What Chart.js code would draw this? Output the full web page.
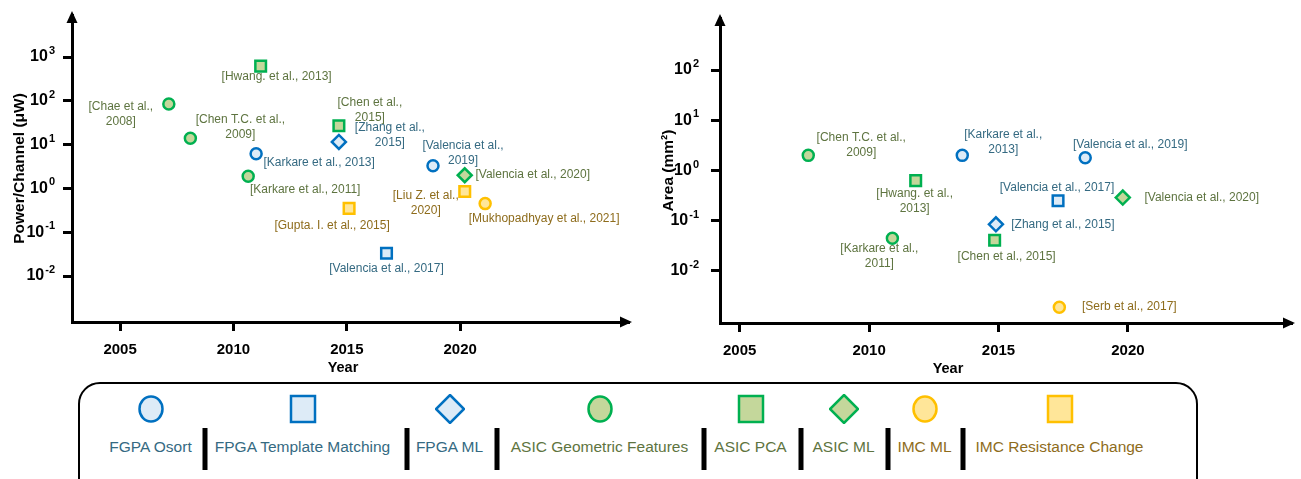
<!DOCTYPE html>
<html>
<head>
<meta charset="utf-8">
<script src="https://cdn.jsdelivr.net/npm/chart.js@4.4.0/dist/chart.umd.min.js"></script>
<style>
  body { margin: 0; background: #fff; width: 1301px; height: 479px; overflow: hidden; position: relative;
         font-family: "Liberation Sans", Arial, sans-serif; }
  #powerWrap { position: absolute; left: 0; top: 0; width: 650px; height: 380px; }
  #areaWrap { position: absolute; left: 650px; top: 0; width: 651px; height: 380px; }
  #legend { position: absolute; left: 78px; top: 382px; width: 1116px; height: 130px;
            border: 2.5px solid #000; border-radius: 22px; }
  .lg-mark { position: absolute; top: 10px; transform: translateX(-50%); }
  .lg-text { position: absolute; top: 54px; transform: translateX(-50%); font-size: 15.5px; white-space: nowrap; }
  .lg-sep { position: absolute; top: 44px; width: 5px; height: 42px; background: #000; transform: translateX(-50%); }
</style>
</head>
<body>
<div id="powerWrap"><canvas id="powerChart"></canvas></div>
<div id="areaWrap"><canvas id="areaChart"></canvas></div>
<div id="legend"></div>
<script>
const categories = ['FGPA Osort', 'FPGA Template Matching', 'FPGA ML', 'ASIC Geometric Features',
  'ASIC PCA', 'ASIC ML', 'IMC ML', 'IMC Resistance Change'];
const xTickYears = [2005, 2010, 2015, 2020];

// Power/Channel (uW) vs year
const powerRefs = [['[Chae et al.,', '2008]'], ['[Chen T.C. et al.,', '2009]'], ['[Karkare et al., 2011]'],
  ['[Karkare et al., 2013]'], ['[Hwang. et al., 2013]'], ['[Chen et al.,', '2015]'], ['[Zhang et al.,', '2015]'],
  ['[Gupta. I. et al., 2015]'], ['[Valencia et al., 2017]'], ['[Valencia et al.,', '2019]'],
  ['[Valencia et al., 2020]'], ['[Liu Z. et al.,', '2020]'], ['[Mukhopadhyay et al., 2021]']];
const powerYears = [2007.15, 2008.1, 2010.65, 2011.0, 2011.2, 2014.65, 2014.65, 2015.1, 2016.75, 2018.8, 2020.2, 2020.2, 2021.1];
const powerValues = [85, 14, 1.9, 6.2, 620, 27, 11.5, 0.35, 0.033, 3.3, 2.0, 0.85, 0.45];
const powerCats = [3, 3, 3, 0, 4, 4, 2, 7, 1, 0, 5, 7, 6];
const powerTicks = [1e-2, 1e-1, 1, 10, 100, 1000];

// Area (mm2) vs year
const areaRefs = [['[Chen T.C. et al.,', '2009]'], ['[Karkare et al.,', '2011]'], ['[Hwang. et al.,', '2013]'],
  ['[Karkare et al.,', '2013]'], ['[Chen et al., 2015]'], ['[Zhang et al., 2015]'], ['[Valencia et al., 2017]'],
  ['[Serb et al., 2017]'], ['[Valencia et al., 2019]'], ['[Valencia et al., 2020]']];
const areaYears = [2007.65, 2010.9, 2011.8, 2013.6, 2014.85, 2014.9, 2017.3, 2017.35, 2018.35, 2019.8];
const areaValues = [2.0, 0.045, 0.63, 2.0, 0.041, 0.085, 0.25, 0.0019, 1.8, 0.29];
const areaCats = [3, 3, 4, 0, 4, 2, 1, 6, 0, 5];
const areaTicks = [1e-2, 1e-1, 1, 10, 100];

// label placement (pixel offsets from the marker)
const powerLabelOffsets = [[-48, 3], [50, -19], [57, 13], [63, 9], [16, 11], [31, -23], [51, -14],
  [-17, 17], [0, 15], [30, -20], [68, -1], [-39, 4], [59, 15]];
const areaLabelOffsets = [[53, -18], [-13, 11], [-1, 13], [41, -21], [12, 16], [67, 0], [-1, -13],
  [70, -1], [45, -13], [79, 0]];

const FONT = '"Liberation Sans", Arial, sans-serif';
const blue = { stroke: '#0070C0', fill: '#DDEBF7', text: '#356A82' };
const green = { stroke: '#00B050', fill: '#C4D79B', text: '#5E7440' };
const gold = { stroke: '#FFC000', fill: '#FFE699', text: '#8E6C1C' };
const catStyle = [
  { c: blue, shape: 'circle', r: 5.5 }, { c: blue, shape: 'rect', r: 7.5 }, { c: blue, shape: 'rectRot', r: 7 },
  { c: green, shape: 'circle', r: 5.5 }, { c: green, shape: 'rect', r: 7.5 }, { c: green, shape: 'rectRot', r: 7 },
  { c: gold, shape: 'circle', r: 5.5 }, { c: gold, shape: 'rect', r: 7.5 }
];

function buildDatasets(years, values, cats) {
  return categories.map((name, ci) => {
    const st = catStyle[ci];
    return {
      label: name,
      data: years.map((yr, i) => ({ x: yr, y: values[i], c: cats[i] })).filter(p => p.c === ci),
      pointStyle: st.shape,
      pointRadius: st.r,
      pointHoverRadius: st.r,
      borderWidth: 2.5,
      borderColor: st.c.stroke,
      backgroundColor: st.c.fill,
      showLine: false
    };
  }).filter(d => d.data.length);
}

const decor = {
  id: 'decor',
  afterDatasetsDraw(chart, args, o) {
    const ctx = chart.ctx, xs = chart.scales.x, ys = chart.scales.y;
    ctx.save();
    ctx.font = '12px ' + FONT;
    ctx.textAlign = 'center';
    ctx.textBaseline = 'middle';
    o.refs.forEach((lines, i) => {
      const px = xs.getPixelForValue(o.years[i]) + o.offsets[i][0];
      const py = ys.getPixelForValue(o.values[i]) + o.offsets[i][1];
      ctx.fillStyle = catStyle[o.cats[i]].c.text;
      lines.forEach((t, k) => ctx.fillText(t, px, py + k * 15));
    });
    ctx.restore();
  },
  afterDraw(chart, args, o) {
    const ctx = chart.ctx, a = chart.chartArea, ys = chart.scales.y;
    ctx.save();
    ctx.fillStyle = '#000';
    // arrow heads
    ctx.beginPath();
    ctx.moveTo(a.left, a.top - 4); ctx.lineTo(a.left - 5.5, a.top + 8); ctx.lineTo(a.left + 5.5, a.top + 8);
    ctx.closePath(); ctx.fill();
    ctx.beginPath();
    ctx.moveTo(a.right + 4, a.bottom); ctx.lineTo(a.right - 8, a.bottom - 5.5); ctx.lineTo(a.right - 8, a.bottom + 5.5);
    ctx.closePath(); ctx.fill();
    // y tick labels with superscript exponents
    ctx.textBaseline = 'middle';
    ctx.textAlign = 'left';
    ys.ticks.forEach(t => {
      const y = ys.getPixelForValue(t.value);
      const exp = String(Math.round(Math.log10(t.value)));
      ctx.font = 'bold 16px ' + FONT;
      const wb = ctx.measureText('10').width;
      ctx.font = 'bold 11px ' + FONT;
      const we = ctx.measureText(exp).width;
      const x0 = a.left - o.labelGap - wb - we - 1;
      ctx.font = 'bold 16px ' + FONT;
      ctx.fillText('10', x0, y);
      ctx.font = 'bold 11px ' + FONT;
      ctx.fillText(exp, x0 + wb + 1, y - 6);
    });
    // x title
    ctx.font = 'bold 14.5px ' + FONT;
    ctx.textAlign = 'center';
    ctx.fillText('Year', o.yearX, o.yearY);
    ctx.restore();
  }
};

function makeChart(id, cfg) {
  return new Chart(document.getElementById(id), {
    type: 'scatter',
    data: { datasets: buildDatasets(cfg.years, cfg.values, cfg.cats) },
    plugins: [decor],
    options: {
      responsive: true,
      maintainAspectRatio: false,
      animation: false,
      events: [],
      layout: { padding: { left: 0, top: cfg.top, right: cfg.right, bottom: 0 } },
      plugins: {
        legend: { display: false },
        tooltip: { enabled: false },
        decor: { refs: cfg.refs, years: cfg.years, values: cfg.values, cats: cfg.cats,
                 offsets: cfg.offsets, labelGap: cfg.labelGap, yearX: cfg.yearX, yearY: cfg.yearY }
      },
      scales: {
        x: {
          type: 'linear', min: cfg.xMin, max: cfg.xMax,
          afterBuildTicks: s => { s.ticks = xTickYears.map(v => ({ value: v })); },
          afterFit: s => { s.height = cfg.xHeight; },
          grid: { drawOnChartArea: false, drawTicks: true, tickLength: 9, color: '#000', lineWidth: 3 },
          border: { display: true, color: '#000', width: 3 },
          ticks: { color: '#000', font: { family: FONT, size: 15, weight: 'bold' }, padding: 10,
                   maxRotation: 0, autoSkip: false, callback: v => String(v) }
        },
        y: {
          type: 'logarithmic', min: cfg.yMin, max: cfg.yMax,
          afterBuildTicks: s => { s.ticks = cfg.yTicks.map(v => ({ value: v })); },
          afterFit: s => { s.width = cfg.yWidth; },
          grid: { drawOnChartArea: false, drawTicks: true, tickLength: 9, color: '#000', lineWidth: 3 },
          border: { display: true, color: '#000', width: 3 },
          ticks: { display: false },
          title: { display: true, text: cfg.yTitle, color: '#000',
                   font: { family: FONT, size: 15.5, weight: 'bold' }, padding: { top: cfg.titlePad, bottom: 0 } }
        }
      }
    }
  });
}

makeChart('powerChart', {
  years: powerYears, values: powerValues, cats: powerCats, refs: powerRefs, offsets: powerLabelOffsets,
  yTicks: powerTicks, yTitle: 'Power/Channel (μW)',
  xMin: 2002.88, xMax: 2027.4, yMin: Math.pow(10, -3.05), yMax: Math.pow(10, 3.96),
  top: 15, right: 22, yWidth: 72, xHeight: 58, labelGap: 17, titlePad: 10, yearX: 343, yearY: 368
});

makeChart('areaChart', {
  years: areaYears, values: areaValues, cats: areaCats, refs: areaRefs, offsets: areaLabelOffsets,
  yTicks: areaTicks, yTitle: 'Area (mm²)',
  xMin: 2004.24, xMax: 2026.3, yMin: Math.pow(10, -3.035), yMax: Math.pow(10, 3.035),
  top: 18, right: 3, yWidth: 70, xHeight: 57, labelGap: 21, titlePad: 9, yearX: 298, yearY: 369
});

// legend row
const legendCenters = [151, 303, 450, 600, 751, 844, 925, 1060];
const legendSeps = [205, 407, 497, 704, 801, 888, 963];
const legendEl = document.getElementById('legend');
const boxLeft = 78 + 2.5;
function markerSvg(st) {
  const s = st.c;
  let shape;
  if (st.shape === 'circle') shape = `<ellipse cx="15" cy="15" rx="11.5" ry="12.5" fill="${s.fill}" stroke="${s.stroke}" stroke-width="2.5"/>`;
  else if (st.shape === 'rect') shape = `<rect x="3" y="2" width="24" height="26" fill="${s.fill}" stroke="${s.stroke}" stroke-width="2.5"/>`;
  else shape = `<polygon points="15,1 29,15 15,29 1,15" fill="${s.fill}" stroke="${s.stroke}" stroke-width="2.5"/>`;
  return `<svg width="30" height="30" viewBox="0 0 30 30">${shape}</svg>`;
}
categories.forEach((name, i) => {
  const m = document.createElement('div');
  m.className = 'lg-mark';
  m.style.left = (legendCenters[i] - boxLeft) + 'px';
  m.innerHTML = markerSvg(catStyle[i]);
  legendEl.appendChild(m);
  const t = document.createElement('div');
  t.className = 'lg-text';
  t.style.left = (legendCenters[i] - boxLeft) + 'px';
  t.style.color = catStyle[i].c.text;
  t.textContent = name;
  legendEl.appendChild(t);
});
legendSeps.forEach(x => {
  const s = document.createElement('div');
  s.className = 'lg-sep';
  s.style.left = (x - boxLeft) + 'px';
  legendEl.appendChild(s);
});
</script>
</body>
</html>
